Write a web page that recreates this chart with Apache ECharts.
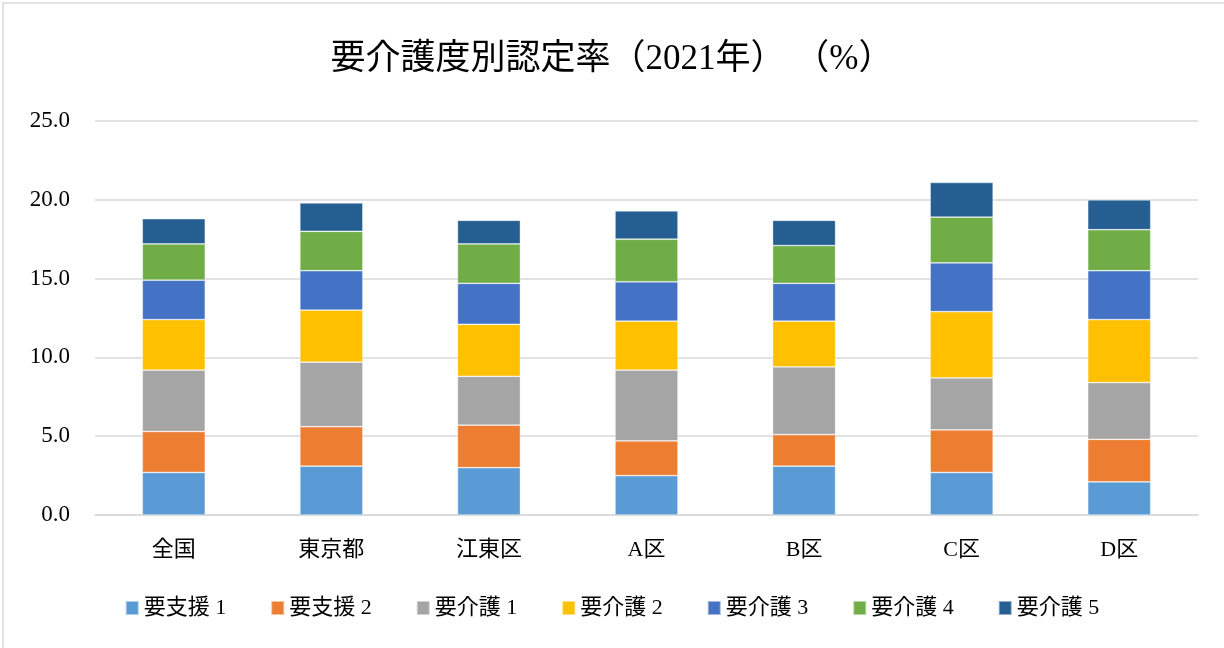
<!DOCTYPE html>
<html lang="ja">
<head>
    <meta charset="UTF-8">
    <script src="https://cdn.jsdelivr.net/npm/echarts@6/dist/echarts.min.js"></script>
    <style>
        html, body { margin: 0; padding: 0; background: #fff; }
        #chart { width: 1224px; height: 648px; }
    </style>
    <title>要介護度別認定率</title>
</head>
<body>
    <div id="chart"></div>
    <script type="text/javascript">
        // 地域
        var categories = ['全国', '東京都', '江東区', 'A区', 'B区', 'C区', 'D区'];
        // 要介護度ごとの認定率（%）
        var shien1 = [2.7, 3.1, 3.0, 2.5, 3.1, 2.7, 2.1];
        var shien2 = [2.6, 2.5, 2.7, 2.2, 2.0, 2.7, 2.7];
        var kaigo1 = [3.9, 4.1, 3.1, 4.5, 4.3, 3.3, 3.6];
        var kaigo2 = [3.2, 3.3, 3.3, 3.1, 2.9, 4.2, 4.0];
        var kaigo3 = [2.5, 2.5, 2.6, 2.5, 2.4, 3.1, 3.1];
        var kaigo4 = [2.3, 2.5, 2.5, 2.7, 2.4, 2.9, 2.6];
        var kaigo5 = [1.6, 1.8, 1.5, 1.8, 1.6, 2.2, 1.9];
        var seriesNames = ['要支援 1', '要支援 2', '要介護 1', '要介護 2', '要介護 3', '要介護 4', '要介護 5'];
        var seriesData = [shien1, shien2, kaigo1, kaigo2, kaigo3, kaigo4, kaigo5];
        var colors = ['#5b9bd5', '#ed7d31', '#a5a5a5', '#ffc000', '#4472c4', '#70ad47', '#255e91'];

        var font = '"Liberation Serif", "Noto Sans CJK JP", serif';

        var chart = echarts.init(document.getElementById('chart'));
        var option = {
            animation: false,
            color: colors,
            textStyle: { fontFamily: font, color: '#000' },
            graphic: [{
                type: 'rect',
                shape: { x: 3, y: 3, width: 1240, height: 660 },
                style: { fill: 'none', stroke: '#d9d9d9', lineWidth: 1.5 }
            }],
            title: {
                text: '要介護度別認定率（2021年） （%）',
                left: 'center',
                top: 37,
                textStyle: { fontFamily: font, fontSize: 35, fontWeight: 'normal', color: '#000' }
            },
            legend: {
                bottom: 24,
                left: 'center',
                itemWidth: 13,
                itemHeight: 14,
                itemGap: 44,
                icon: 'rect',
                textStyle: { fontFamily: font, fontSize: 22, color: '#000' },
                data: seriesNames
            },
            grid: { left: 95, right: 26, top: 121, bottom: 133 },
            xAxis: {
                type: 'category',
                data: categories,
                axisLine: { lineStyle: { color: '#d9d9d9', width: 1.5 } },
                axisTick: { show: false },
                axisLabel: { fontFamily: font, fontSize: 22, color: '#000', margin: 24 }
            },
            yAxis: {
                type: 'value',
                min: 0,
                max: 25,
                interval: 5,
                axisLine: { show: false },
                axisTick: { show: false },
                splitLine: { lineStyle: { color: '#d9d9d9', width: 1.5 } },
                axisLabel: {
                    fontFamily: font, fontSize: 23, color: '#000', margin: 25,
                    formatter: function (v) { return v.toFixed(1); }
                }
            },
            series: seriesNames.map(function (name, i) {
                return {
                    name: name,
                    type: 'bar',
                    stack: 'total',
                    barWidth: '40%',
                    data: seriesData[i],
                    itemStyle: { borderColor: 'rgba(255,255,255,0.5)', borderWidth: 0.75 }
                };
            })
        };
        chart.setOption(option);
    </script>
</body>
</html>
